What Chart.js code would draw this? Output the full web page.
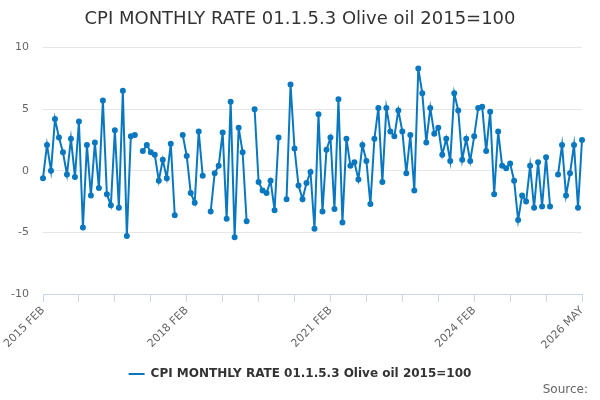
<!DOCTYPE html>
<html>
<head>
<meta charset="utf-8">
<script src="https://cdn.jsdelivr.net/npm/chart.js@4.4.1/dist/chart.umd.min.js"></script>
<style>
  html, body { margin: 0; padding: 0; background: #fff; }
  #grafik { display: block; width: 600px; height: 400px; }
</style>
</head>
<body>
<canvas id="grafik" width="600" height="400"></canvas>
<script>
// === DATA ===
const seriesName = "CPI MONTHLY RATE 01.1.5.3 Olive oil 2015=100";

// monthly labels 2015 FEB .. 2026 MAY
const monthNames = ["JAN", "FEB", "MAR", "APR", "MAY", "JUN", "JUL", "AUG", "SEP", "OCT", "NOV", "DEC"];
const months = [];
for (let y = 2015, m = 1; y < 2026 || (y === 2026 && m <= 4); m++) {
  if (m > 11) { m = 0; y++; }
  months.push(y + " " + monthNames[m]);
}

const shownTicks = ["2015 FEB", "2018 FEB", "2021 FEB", "2024 FEB", "2026 MAY"];
const yTicks = [-10, -5, 0, 5, 10];

// monthly rate (%), null = no value
const rate = [
  -0.6, 2.1, 0.0, 4.2, 2.7, 1.5, -0.3, 2.6, -0.5, 4.0, -4.6, 2.1,
  -2.0, 2.3, -1.4, 5.7, -1.9, -2.8, 3.3, -3.0, 6.5, -5.3, 2.8, 2.9,
  null, 1.6, 2.1, 1.5, 1.3, -0.8, 0.9, -0.6, 2.2, -3.6, null, 2.9,
  1.2, -1.8, -2.6, 3.2, -0.4, null, -3.3, -0.2, 0.4, 3.1, -3.9, 5.6,
  -5.4, 3.5, 1.5, -4.1, null, 5.0, -0.9, -1.6, -1.8, -0.8, -3.2, 2.7,
  null, -2.3, 7.0, 1.8, -1.2, -2.3, -1.0, -0.1, -4.7, 4.6, -3.3, 1.7,
  2.7, -3.1, 5.8, -4.2, 2.6, 0.4, 0.7, -0.7, 2.1, 0.8, -2.7, 2.6,
  5.1, -0.9, 5.1, 3.2, 2.8, 4.9, 3.2, -0.2, 2.9, -1.6, 8.3, 6.3,
  2.3, 5.1, 3.0, 3.5, 1.3, 2.6, 0.8, 6.3, 4.9, 0.9, 2.6, 0.8,
  2.8, 5.1, 5.2, 1.6, 4.8, -1.9, 3.2, 0.4, 0.2, 0.6, -0.8, -4.0,
  -2.0, -2.5, 0.4, -3.0, 0.7, -2.9, 1.1, -2.9, null, -0.3, 2.1, -2.0,
  -0.2, 2.1, -3.0, 2.5
];

const lineColor = "#0a78c0";
const fontFamily = "'DejaVu Sans', sans-serif";

// "Source:" bottom right
const sourceText = {
  id: "sourceText",
  afterDraw(chart) {
    const c = chart.ctx;
    c.save();
    c.font = "12px " + fontFamily;
    c.fillStyle = "#666666";
    c.textAlign = "right";
    c.textBaseline = "middle";
    c.fillText("Source:", 588, 390);
    c.restore();
  }
};

new Chart(document.getElementById("grafik"), {
  type: "line",
  data: {
    labels: months,
    datasets: [{
      label: seriesName,
      data: rate,
      borderColor: lineColor,
      backgroundColor: lineColor,
      borderWidth: 2,
      pointRadius: 2,
      pointStyle: "circle",
      tension: 0,
      showLine: true,
      spanGaps: false
    }]
  },
  options: {
    responsive: false,
    animation: false,
    events: [],
    devicePixelRatio: 1,
    layout: { padding: { left: 0, right: 0, top: 0, bottom: 10 } },
    scales: {
      x: {
        offset: false,
        afterFit: s => { s.height = 66; },
        grid: {
          drawOnChartArea: false,
          drawTicks: true,
          tickLength: 8,
          tickColor: ctx => (ctx.index % 9 === 0 ? "#ccd6eb" : "rgba(0,0,0,0)")
        },
        border: { display: true, color: "#ccd6eb", width: 1 },
        ticks: {
          autoSkip: false,
          maxRotation: 45,
          minRotation: 45,
          padding: 2,
          color: "#666666",
          font: { family: fontFamily, size: 11 },
          callback: function (val) {
            const lab = this.getLabelForValue(val);
            return shownTicks.includes(lab) ? lab : "";
          }
        }
      },
      y: {
        min: -10,
        max: 10,
        afterFit: s => { s.width = 43; },
        afterBuildTicks: s => { s.ticks = yTicks.map(v => ({ value: v })); },
        grid: { color: "#e6e6e6", drawTicks: false },
        border: { display: false },
        ticks: {
          padding: 14,
          color: "#666666",
          font: { family: fontFamily, size: 11 }
        }
      },
      yRight: {
        position: "right",
        afterFit: s => { s.width = 18; },
        grid: { display: false },
        border: { display: false },
        ticks: { display: false }
      }
    },
    plugins: {
      title: {
        display: true,
        text: seriesName,
        color: "#333333",
        font: { family: fontFamily, size: 18, weight: "normal" },
        padding: { top: 9, bottom: 17 }
      },
      legend: {
        position: "bottom",
        labels: {
          usePointStyle: true,
          pointStyle: "line",
          pointStyleWidth: 16,
          color: "#333333",
          font: { family: fontFamily, size: 12, weight: "bold" },
          padding: 8
        }
      },
      tooltip: { enabled: false }
    }
  },
  plugins: [sourceText]
});
</script>
</body>
</html>
